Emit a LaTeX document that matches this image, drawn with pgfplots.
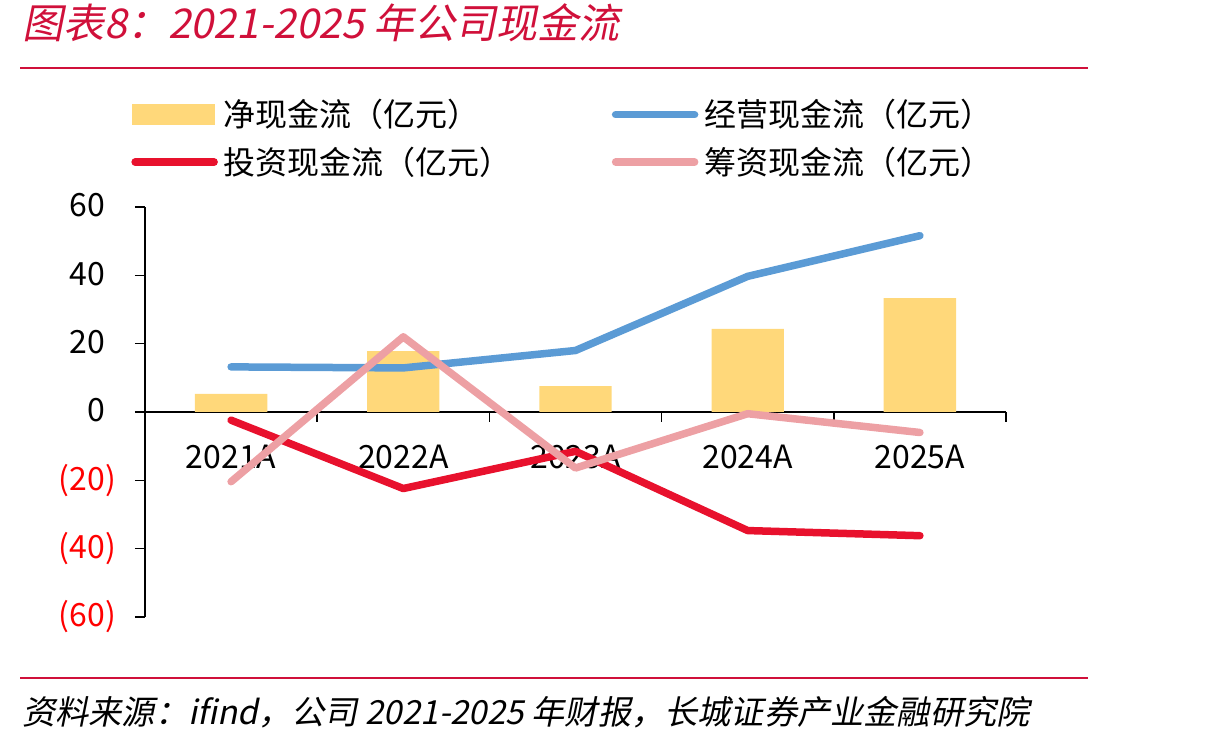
\documentclass[border=0pt]{standalone}
\usepackage{pgfplots}
\pgfplotsset{compat=1.18}
\usepackage{fontspec}
\setmainfont{Noto Sans CJK SC}
\newfontfamily\slantcjk[FakeSlant=0.2]{Noto Sans CJK SC}
\definecolor{titlered}{HTML}{D0103A}
\definecolor{netbar}{HTML}{FFD87A}
\definecolor{opblue}{HTML}{5B9BD5}
\definecolor{invred}{HTML}{E8112D}
\definecolor{finpink}{HTML}{EDA0A4}
\definecolor{negred}{HTML}{FF0000}

\pgfplotsset{
  flow line/.style={line width=3.75pt, line cap=round, line join=round, mark=none,
    legend image code/.code={\draw[##1] (1.5pt,0pt) -- (41pt,0pt);}},
  flow bar legend/.style={legend image code/.code={\fill[netbar] (0pt,-5.25pt) rectangle (41.5pt,5.25pt);}},
}

\begin{document}
\begin{tikzpicture}
\path[use as bounding box] (0,0) rectangle (605pt,-371.5pt);
\begin{axis}[
  at={(72.5pt,-308.5pt)}, anchor=south west,
  scale only axis, width=430.5pt, height=205pt,
  xmin=-0.5, xmax=4.5, ymin=-60, ymax=60,
  axis y line*=left, axis x line*=middle,
  hide obscured x ticks=false,
  axis line style={black, line width=0.8pt},
  every tick/.style={black, line width=0.8pt},
  tick align=outside,
  major tick length=5pt,
  font=\fontsize{16}{19}\selectfont,
  xtick={-0.5,0.5,1.5,2.5,3.5,4.5},
  x tick label as interval,
  xticklabels={2021A,2022A,2023A,2024A,2025A},
  xticklabel style={yshift=-8pt},
  ytick={-60,-40,-20,0,20,40,60},
  yticklabels={\textcolor{negred}{(60)},\textcolor{negred}{(40)},\textcolor{negred}{(20)},0\phantom{)},20\phantom{)},40\phantom{)},60\phantom{)}},
  yticklabel style={anchor=east, xshift=-6pt},
  legend columns=2,
  legend cell align=left,
  legend style={draw=none, fill=none, inner sep=0pt,
    at={(axis description cs:-0.0163,1.273)}, anchor=north west,
    font=\fontsize{16}{19}\selectfont,
    nodes={inner xsep=3pt},
    row sep=4.5pt,
    /tikz/every even column/.append style={column sep=47pt}},
  clip=false,
]
% net cash flow (bars)
\addplot[ybar, bar width=0.42, fill=netbar, draw=none, flow bar legend]
  coordinates {(0,5.3) (1,17.8) (2,7.6) (3,24.3) (4,33.3)};
\addlegendentry{净现金流（亿元）}
% operating cash flow
\addplot[opblue, flow line]
  coordinates {(0,13.2) (1,12.9) (2,18.0) (3,39.7) (4,51.6)};
\addlegendentry{经营现金流（亿元）}
% investing cash flow
\addplot[invred, flow line]
  coordinates {(0,-2.4) (1,-22.4) (2,-11.5) (3,-34.7) (4,-36.2)};
\addlegendentry{投资现金流（亿元）}
% financing cash flow
\addplot[finpink, flow line]
  coordinates {(0,-20.4) (1,22.0) (2,-16.4) (3,-0.5) (4,-6.0)};
\addlegendentry{筹资现金流（亿元）}
\end{axis}
\begin{scope}[x=0.5pt,y=-0.5pt]
\node[anchor=base west, inner sep=0pt, text=titlered,
  font=\slantcjk\fontsize{20.5}{24}\selectfont] at (22,39) {图表8：2021-2025 年公司现金流};
\draw[titlered, line width=1pt] (20,68) -- (1088,68);
\draw[titlered, line width=1pt] (20,678) -- (1088,678);
\node[anchor=base west, inner sep=0pt,
  font=\slantcjk\fontsize{16.6}{20}\selectfont] at (22,724) {资料来源：ifind，公司 2021-2025 年财报，长城证券产业金融研究院};
\end{scope}
\end{tikzpicture}
\end{document}
